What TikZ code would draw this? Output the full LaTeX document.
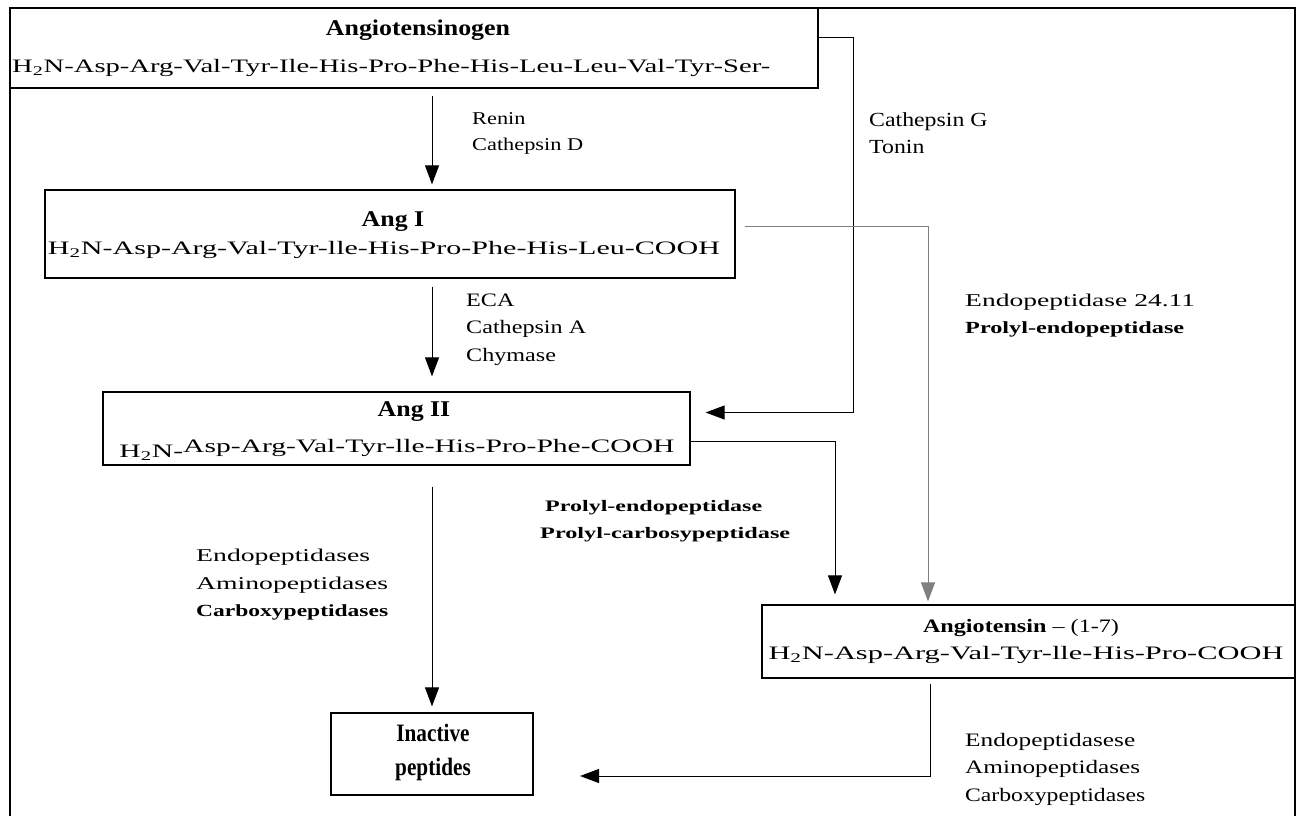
\documentclass[tikz,border=0pt]{standalone}
\usepackage{fontspec}
\setmainfont{Liberation Serif}
\usetikzlibrary{arrows.meta}
\newcommand\fitw[2]{\resizebox{#1}{\height}{#2}}
\newcommand\sx[2]{\scalebox{#1}[1]{#2}}

\tikzset{
  box/.style={draw, line width=1.2pt, inner sep=0pt},
  flow/.style={->, line width=1pt},
  seq/.style={inner sep=0pt, font=\fontsize{19}{19}\selectfont},
  ttl/.style={inner sep=0pt, font=\bfseries\fontsize{22.5}{22.5}\selectfont},
  lbl/.style={anchor=base west, inner sep=0pt},
}

\begin{document}
\begin{tikzpicture}[x=1pt,y=-1pt,>={Triangle[width=14pt,length=19pt]}]
    \useasboundingbox (0,0) rectangle (1301,816);
    %frame
    \draw[line width=2pt] (10,816) -- (10,8) -- (1295,8) -- (1295,816);

    %boxes
    \node[box, minimum width=808pt, minimum height=80pt] (aogen) at (414,48) {};
    \node[box, minimum width=690pt, minimum height=88pt] (ang1) at (390,234) {};
    \node[box, minimum width=587pt, minimum height=73pt] (ang2) at (396.5,428.5) {};
    \node[box, minimum width=533pt, minimum height=73pt] (ang17) at (1028.5,641.5) {};
    \node[box, minimum width=202pt, minimum height=82pt] (inact) at (432,754) {};

    %box texts
    \node[ttl] (aogenT) at (418,30) {\sx{1.15}{Angiotensinogen}};
    \node[seq, anchor=west] (aogenS) at (12,68) {\fitw{758pt}{H\textsubscript{2}N-Asp-Arg-Val-Tyr-Ile-His-Pro-Phe-His-Leu-Leu-Val-Tyr-Ser-}};
    \node[ttl] (ang1T) at (393,222) {\sx{1.15}{Ang I}};
    \node[seq] (ang1S) at (384,250) {\fitw{672pt}{H\textsubscript{2}N-Asp-Arg-Val-Tyr-lle-His-Pro-Phe-His-Leu-COOH}};
    \node[ttl] (ang2T) at (414,412) {\sx{1.15}{Ang II}};
    \node[seq] (ang2S) at (397,450) {\fitw{555pt}{\raisebox{-5pt}{H\textsubscript{2}N-}Asp-Arg-Val-Tyr-lle-His-Pro-Phe-COOH}};
    \node[inner sep=0pt, font=\fontsize{19}{19}\selectfont] (ang17T) at (1021,628) {\fitw{196pt}{\textbf{Angiotensin} -- (1-7)}};
    \node[seq] (ang17S) at (1026,655) {\fitw{515pt}{H\textsubscript{2}N-Asp-Arg-Val-Tyr-lle-His-Pro-COOH}};
    \node[inner sep=0pt, align=center, font=\bfseries\fontsize{25}{34}\selectfont] (inactT) at (433,752) {\sx{0.85}{Inactive}\\\sx{0.85}{peptides}};

    %connectors
    \coordinate (mainx) at (432,0);
    \draw[flow, shorten <=7pt, shorten >=5pt] (aogen.south -| mainx) -- (ang1.north -| mainx);
    \draw[flow, shorten <=8pt, shorten >=15pt] (ang1.south -| mainx) -- (ang2.north -| mainx);
    \draw[flow, shorten <=21pt, shorten >=6pt] (ang2.south -| mainx) -- (inact.north -| mainx);

    \coordinate (bendG) at (853,38);
    \draw[flow, shorten >=15pt] (aogen.east |- bendG) -- (bendG) |- ([yshift=16pt]ang2.east);

    \coordinate (bendE) at (928,226);
    \draw[flow, gray, shorten <=9pt, shorten >=3pt] (ang1.east |- bendE) -- (bendE) -- (bendE |- ang17.north);

    \coordinate (bendP) at (835,441);
    \draw[flow, shorten >=10pt] (ang2.east |- bendP) -- (bendP) -- (bendP |- ang17.north);

    \coordinate (bendI) at (930,776);
    \coordinate (inEnd) at (580,776);
    \draw[flow, shorten <=5pt] (ang17.south -| bendI) -- (bendI) -- (inEnd);

    %enzyme labels
    \node[lbl, font=\fontsize{18}{18}\selectfont] (ren1) at (472,124) {\sx{1.24}{Renin}};
    \node[lbl, font=\fontsize{18}{18}\selectfont] (ren2) at (472,150) {\sx{1.24}{Cathepsin D}};

    \node[lbl, font=\fontsize{20}{20}\selectfont] (catg1) at (869,126) {\sx{1.19}{Cathepsin G}};
    \node[lbl, font=\fontsize{20}{20}\selectfont] (catg2) at (869,153) {\sx{1.19}{Tonin}};

    \node[lbl, font=\fontsize{19}{19}\selectfont] (eca1) at (466,306) {\sx{1.27}{ECA}};
    \node[lbl, font=\fontsize{19}{19}\selectfont] (eca2) at (466,333) {\sx{1.27}{Cathepsin A}};
    \node[lbl, font=\fontsize{19}{19}\selectfont] (eca3) at (466,361) {\sx{1.27}{Chymase}};

    \node[lbl, font=\fontsize{18}{18}\selectfont] (ep1) at (965,306) {\fitw{230pt}{Endopeptidase 24.11}};
    \node[lbl, font=\bfseries\fontsize{17}{17}\selectfont] (ep2) at (965,333) {\fitw{219pt}{Prolyl-endopeptidase}};

    \node[inner sep=0pt, anchor=base west, font=\bfseries\fontsize{16}{16}\selectfont] (pro1) at (545,511) {\fitw{217pt}{Prolyl-endopeptidase}};
    \node[inner sep=0pt, anchor=base west, font=\bfseries\fontsize{16}{16}\selectfont] (pro2) at (540,538) {\fitw{250pt}{Prolyl-carbosypeptidase}};

    \node[lbl, font=\fontsize{18}{18}\selectfont] (exL1) at (196,561) {\fitw{174pt}{Endopeptidases}};
    \node[lbl, font=\fontsize{18}{18}\selectfont] (exL2) at (196,589) {\fitw{192pt}{Aminopeptidases}};
    \node[lbl, font=\bfseries\fontsize{17}{17}\selectfont] (exL3) at (196,616) {\fitw{192pt}{Carboxypeptidases}};

    \node[lbl, font=\fontsize{19}{19}\selectfont] (exR1) at (965,746) {\fitw{170pt}{Endopeptidasese}};
    \node[lbl, font=\fontsize{19}{19}\selectfont] (exR2) at (965,773) {\fitw{175pt}{Aminopeptidases}};
    \node[lbl, font=\fontsize{19}{19}\selectfont] (exR3) at (965,801) {\fitw{180pt}{Carboxypeptidases}};
\end{tikzpicture}
\end{document}
